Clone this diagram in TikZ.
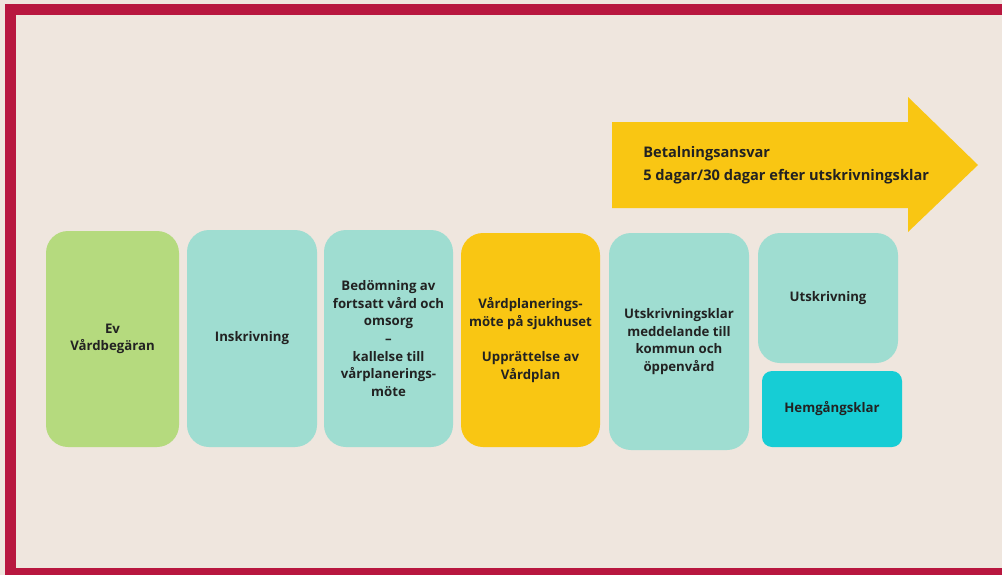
\documentclass[tikz,border=0pt]{standalone}
\usepackage{fontspec}
\setmainfont{Open Sans}
\definecolor{bgbeige}{HTML}{EFE6DE}
\definecolor{frame}{HTML}{B8173F}
\definecolor{leafgreen}{HTML}{B5DA7E}
\definecolor{mint}{HTML}{9FDDD1}
\definecolor{sun}{HTML}{F9C613}
\definecolor{cyan}{HTML}{16CDD5}
\definecolor{ink}{HTML}{222222}

\begin{document}
\begin{tikzpicture}
    \tikzstyle{step box}=[rectangle,rounded corners=0.55cm,align=center,text=ink,font=\fontsize{9.4}{12.5}\selectfont\bfseries,inner sep=2pt]
    \tikzstyle{tall box}=[step box,minimum height=5.4cm]
    \tikzstyle{annot}=[align=left,text=ink,font=\fontsize{10.4}{16.4}\selectfont\bfseries,anchor=west,inner sep=0pt]
    % Background and frame
    \fill[bgbeige] (0,0) rectangle (25.05,-14.375);
    \useasboundingbox (0,0) rectangle (25.05,-14.375);
    \fill[frame] (0.125,-0.1) rectangle (25.05,-0.375);
    \fill[frame] (0.125,-0.1) rectangle (0.4,-14.375);
    \fill[frame] (0.125,-14.2) rectangle (25.05,-14.375);
    % Draw the payment arrow
    \fill[sun] (15.3,-3.05) -- (22.7,-3.05) -- (22.7,-2.425) -- (24.45,-4.125)
        -- (22.7,-5.8) -- (22.7,-5.2) -- (15.3,-5.2) -- cycle;
    \node[annot] (ansvar) at (16.075,-4.125) {Betalningsansvar\\5 dagar/30 dagar efter utskrivningsklar};
    % Draw the steps
    \node[tall box,fill=leafgreen,minimum width=3.325cm] (S-1) at (2.8125,-8.475) {Ev\\Vårdbegäran};
    \node[tall box,fill=mint,minimum width=3.25cm,minimum height=5.425cm] (S-2) at (6.3,-8.4625) {Inskrivning};
    \node[tall box,fill=mint,minimum width=3.225cm,minimum height=5.425cm] (S-3) at (9.7125,-8.4625)
        {Bedömning av\\fortsatt vård och\\omsorg\\–\\kallelse till\\vårplanerings-\\möte};
    \node[tall box,fill=sun,minimum width=3.475cm,minimum height=5.35cm] (S-4) at (13.2625,-8.5)
        {Vårdplanerings-\\möte på sjukhuset\\[12.5pt]Upprättelse av\\Vårdplan};
    \node[tall box,fill=mint,minimum width=3.5cm,minimum height=5.425cm] (S-5) at (16.975,-8.5375)
        {Utskrivningsklar\\meddelande till\\kommun och\\öppenvård};
    \node[step box,fill=mint,minimum width=3.5cm,minimum height=3.25cm] (S-6) at (20.7,-7.45) {Utskrivning};
    \node[step box,fill=cyan,rounded corners=0.25cm,minimum width=3.5cm,minimum height=1.9cm] (S-7) at (20.8,-10.225) {Hemgångsklar};
\end{tikzpicture}
\end{document}
